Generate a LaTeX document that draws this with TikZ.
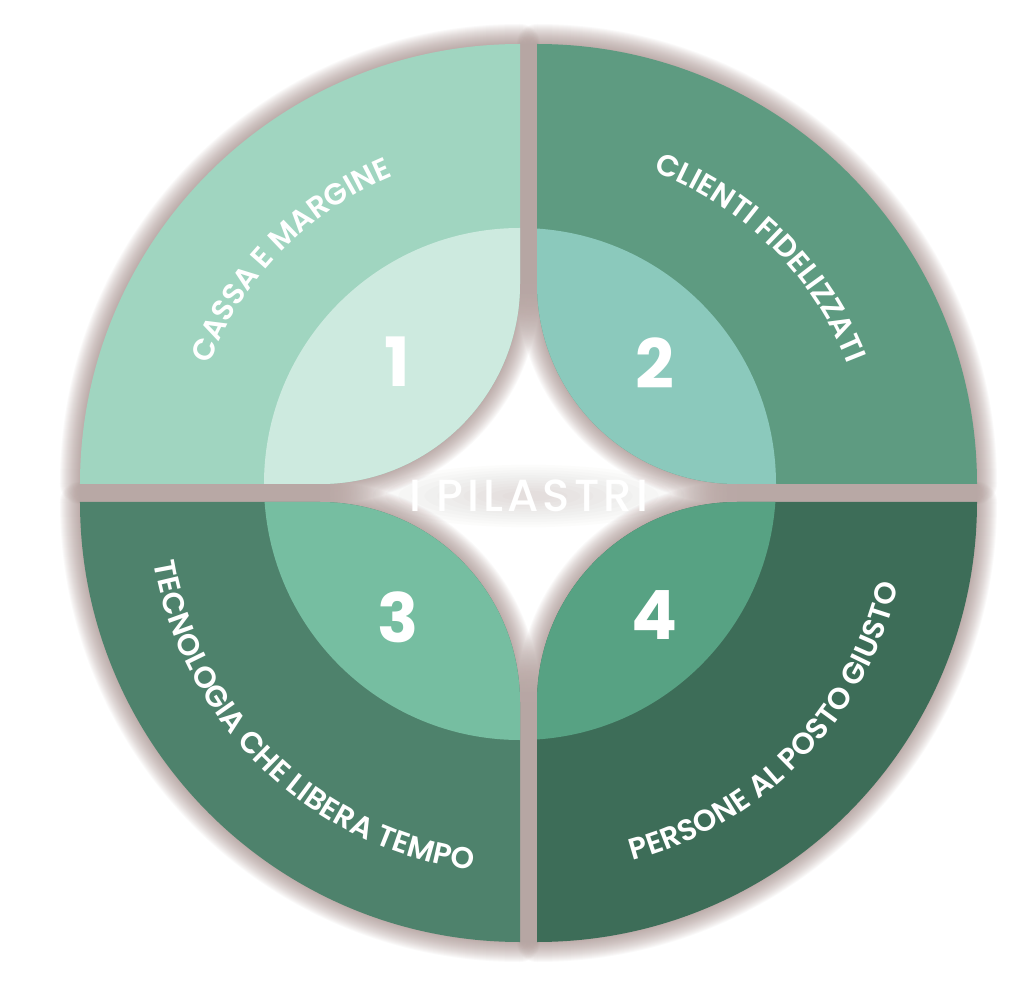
\documentclass[tikz,border=0pt]{standalone}
\usepackage{fontspec}
\newfontfamily\pilfont{Poppins}
\IfFontExistsTF{Poppins SemiBold}{\newfontfamily\arcfam{Poppins SemiBold}}{\newcommand{\arcfam}{\pilfont\bfseries}}
\IfFontExistsTF{Poppins Medium}{\newfontfamily\titlefont{Poppins Medium}[LetterSpace=9]}{\newfontfamily\titlefont{Poppins}[LetterSpace=9]}
\usetikzlibrary{decorations.text}

\definecolor{glowcol}{HTML}{9C827E}
\definecolor{qone}{HTML}{A0D5C0}
\definecolor{leafone}{HTML}{CDEADF}
\definecolor{qtwo}{HTML}{5E9B81}
\definecolor{leaftwo}{HTML}{8BC9BC}
\definecolor{qthree}{HTML}{4E826C}
\definecolor{leafthree}{HTML}{76BEA1}
\definecolor{qfour}{HTML}{3D6D58}
\definecolor{leaffour}{HTML}{57A283}
\definecolor{numshadow}{HTML}{2E4F42}

% quarter disc with a rounded inner corner: corner x, corner y, x side, y side
\newcommand{\petal}[4]{({#1},{(#2)+(#4)*440}) -- ({#1},{(#2)+(#4)*200})
  arc[start angle={90+90*(#3)}, delta angle={90*(#3)*(#4)}, radius=200pt]
  -- ({(#1)+(#3)*440},{#2})
  arc[start angle={90-90*(#3)}, delta angle={90*(#3)*(#4)}, radius=440pt] -- cycle}
\newcommand{\arcfont}{\arcfam\fontsize{30}{32}\selectfont}

\tikzset{
  glow/.style={glowcol, line width=#1pt, opacity=0.045, line join=round},
  arctext/.style={decorate, decoration={text along path, text align=center, text color=white}},
  numlabel/.style={font=\pilfont\bfseries\fontsize{68}{70}\selectfont, text=white},
  pilastri/.style={font=\titlefont\fontsize{45}{47}\selectfont, text=white}
}

\begin{document}
\begin{tikzpicture}[x=1pt, y=1pt]
  \fill[white] (-520,-511) rectangle (504,484);
  \useasboundingbox (-520,-511) rectangle (504,484);
  \foreach \cx/\cy/\sx/\sy in {0/0/-1/1, 17/0/1/1, 0/-18/-1/-1, 17/-18/1/-1}
    \foreach \w in {2,4,...,40}
      \draw[glow=\w] \petal{\cx}{\cy}{\sx}{\sy};
  \foreach \cx/\cy/\sx/\sy/\qc/\lc in {0/0/-1/1/qone/leafone, 17/0/1/1/qtwo/leaftwo, 0/-18/-1/-1/qthree/leafthree, 17/-18/1/-1/qfour/leaffour} {
    \fill[\qc] \petal{\cx}{\cy}{\sx}{\sy};
    \begin{scope}
      \clip \petal{\cx}{\cy}{\sx}{\sy};
      \fill[\lc] (0,0) circle[radius=256pt];
    \end{scope}
  }
  \path[arctext, decoration={text={|\arcfont|CASSA E MARGINE}}]
    (0,0) ++(175.7:333pt) arc[start angle=175.7, end angle=95.7, radius=333pt];
  \path[arctext, decoration={text={|\arcfont|CLIENTI FIDELIZZATI}}]
    (17,0) ++(85.3:333pt) arc[start angle=85.3, end angle=5.3, radius=333pt];
  \path[arctext, decoration={text={|\arcfont|TECNOLOGIA CHE LIBERA TEMPO}}]
    (0,-18) ++(176:371pt) arc[start angle=176, end angle=276, radius=371pt];
  \path[arctext, decoration={text={|\arcfont|PERSONE AL POSTO GIUSTO}}]
    (17,-18) ++(-95:371pt) arc[start angle=-95, end angle=7, radius=371pt];
  \node[numlabel] (n1) at (-123,122) {1};
  \node[numlabel] (n2) at (135,121) {2};
  \node[numlabel] (n3) at (-122,-133) {3};
  \node[numlabel] (n4) at (135,-131) {4};
  \foreach \s in {1.2,1.1,...,0.2}
    \fill[glowcol, opacity=0.025] (8.5,-12) ellipse[x radius={\s*130pt}, y radius={\s*26pt}];
  \node[pilastri] (title) at (8.5,-12) {I PILASTRI};
\end{tikzpicture}
\end{document}
